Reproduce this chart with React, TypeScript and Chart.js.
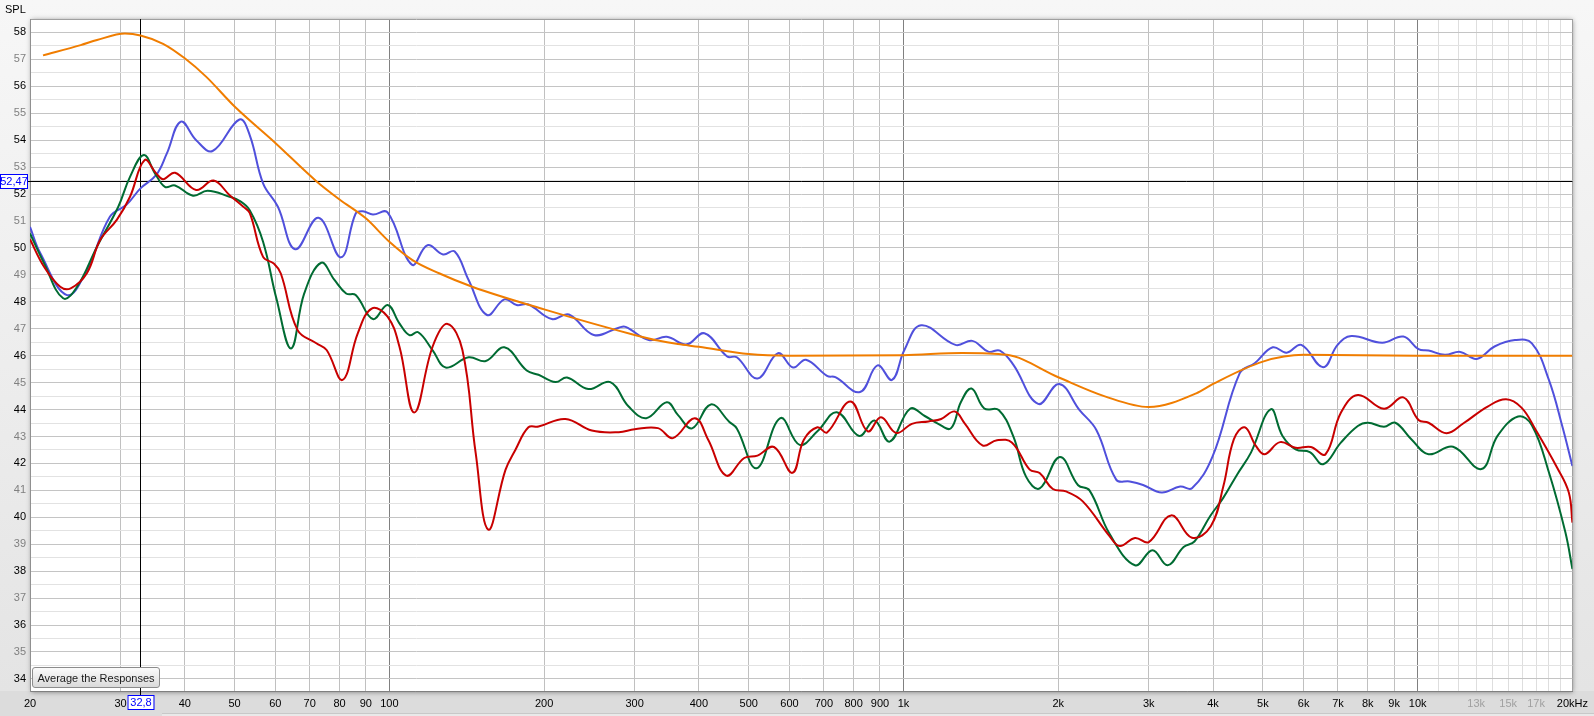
import React, { useEffect, useRef } from 'react';
import { Chart, registerables } from 'chart.js';

Chart.register(...registerables);

// ---- Data (frequency in Hz, SPL in dB) ----
const targetFreq = [21.2, 25.1, 27, 30.6, 32.8, 36.3, 40, 44, 50, 60, 72.1, 80, 90, 100, 110.9, 124.9, 144.9, 200, 300, 333, 364, 400, 500, 600, 1000, 1300, 1589, 2000, 2472, 3000, 3710, 4000, 5000, 6000, 10000, 20000];
const targetSPL = [57.15, 57.53, 57.72, 57.96, 57.89, 57.58, 57.04, 56.36, 55.25, 53.9, 52.48, 51.8, 51.1, 50.23, 49.55, 49.06, 48.56, 47.72, 46.77, 46.56, 46.43, 46.33, 46.06, 46.0, 46.02, 46.1, 46.03, 45.2, 44.48, 44.09, 44.6, 44.95, 45.78, 46.03, 46.0, 46.0];

const blueFreq = [20, 20.95, 23.6, 25.8, 28.6, 30.8, 32.8, 35.2, 36.9, 39.3, 42.1, 45.3, 51.1, 53.5, 56.8, 60.7, 65.6, 72.8, 80.5, 86, 88.8, 92.9, 99.2, 110.6, 118.6, 127.2, 134, 142.6, 154.8, 167.4, 176.8, 186.4, 207, 223.4, 249.8, 279.4, 288, 319.6, 346.4, 378.6, 410, 454, 474, 520, 570, 610, 646, 710, 737, 823, 890, 950, 1004, 1082, 1262, 1361, 1462, 1540, 1636, 1828, 2008, 2200, 2372, 2594, 2754, 2924, 3178, 3452, 3640, 3990, 4508, 4820, 5226, 5560, 5940, 6550, 6986, 7430, 8532, 9380, 10040, 10500, 11300, 12100, 13030, 14110, 15460, 16680, 18000, 19120, 20000];
const blueSPL = [50.78, 49.8, 48.25, 49.18, 51.16, 51.6, 52.21, 52.71, 53.5, 54.69, 54.0, 53.6, 54.77, 54.19, 52.4, 51.53, 49.95, 51.12, 49.65, 51.28, 51.36, 51.24, 51.32, 49.38, 50.1, 49.76, 49.87, 48.81, 47.51, 48.09, 47.88, 47.9, 47.36, 47.53, 46.77, 47.04, 47.07, 46.58, 46.7, 46.42, 46.83, 45.97, 45.94, 45.15, 46.09, 45.56, 45.85, 45.25, 45.2, 44.65, 45.64, 45.1, 46.21, 47.13, 46.4, 46.55, 46.15, 46.19, 45.66, 44.21, 44.95, 43.98, 43.24, 41.39, 41.33, 41.2, 40.92, 41.14, 41.08, 42.25, 45.35, 45.72, 46.31, 46.11, 46.4, 45.57, 46.4, 46.73, 46.48, 46.71, 46.24, 46.19, 46.03, 46.14, 45.88, 46.34, 46.58, 46.46, 45.1, 43.37, 41.9];

const redFreq = [20, 21.3, 22.9, 24, 25.8, 27.4, 29.5, 31.3, 33.4, 35.2, 36.3, 38.3, 42.1, 45.5, 48.9, 52, 53.5, 56.8, 59.6, 61.5, 66.3, 72.1, 75.5, 81.1, 86.8, 92.4, 99.2, 104.6, 111.8, 121.4, 129.7, 138.7, 147.2, 155.7, 168.2, 175.8, 186.4, 195, 220, 247.6, 279.4, 300, 333, 356, 392.8, 417, 452, 490, 520, 560, 608, 640, 680, 710, 788, 852, 904, 968, 1038, 1118, 1184, 1258, 1314, 1424, 1520, 1624, 1760, 1840, 1952, 2070, 2232, 2516, 2634, 2820, 3000, 3316, 3640, 3960, 4190, 4390, 4610, 4850, 5040, 5400, 5790, 6200, 6620, 7090, 7650, 8600, 9380, 10040, 10500, 11380, 12280, 13680, 14860, 15920, 16940, 18680, 19680, 20000];
const redSPL = [50.32, 49.3, 48.56, 48.5, 49.06, 50.3, 51.04, 51.9, 53.26, 52.77, 52.55, 52.79, 52.15, 52.5, 51.96, 51.53, 51.3, 49.67, 49.42, 49.05, 46.95, 46.46, 46.21, 45.1, 46.83, 47.75, 47.45, 46.34, 43.89, 46.34, 47.18, 46.21, 42.38, 39.54, 41.76, 42.5, 43.34, 43.37, 43.65, 43.22, 43.16, 43.27, 43.31, 42.94, 43.68, 42.88, 41.55, 42.2, 42.29, 42.61, 41.65, 42.88, 43.34, 43.15, 44.3, 43.19, 43.71, 43.13, 43.47, 43.56, 43.65, 43.93, 43.5, 42.67, 42.86, 42.78, 41.77, 41.64, 41.05, 40.96, 40.59, 39.3, 38.93, 39.23, 39.08, 40.07, 39.24, 39.67, 41.16, 42.89, 43.34, 42.64, 42.34, 42.79, 42.58, 42.61, 42.34, 43.88, 44.54, 44.03, 44.45, 43.61, 43.51, 43.12, 43.49, 44.11, 44.38, 44.07, 43.27, 41.84, 40.92, 39.8];

const greenFreq = [20, 21.3, 23.2, 24.7, 27, 29.7, 31.3, 33.3, 35, 36.6, 38.3, 41.5, 44.3, 48.9, 51.1, 53.5, 56.8, 60.3, 64.4, 68.3, 73.7, 78.2, 82.4, 86, 92.9, 99.2, 104.6, 109.4, 113.8, 121.4, 128.7, 142.6, 154, 167.4, 185, 195, 210.4, 221.6, 243.8, 269, 292, 316, 346.4, 364, 388, 422, 458, 474, 518, 576, 628, 680, 742, 820, 878, 940, 1030, 1100, 1166, 1236, 1294, 1356, 1436, 1532, 1636, 1732, 1840, 2014, 2186, 2300, 2516, 2820, 3050, 3264, 3506, 3680, 3950, 4190, 4460, 4740, 5176, 5460, 5790, 6170, 6550, 7090, 7650, 8008, 8600, 9048, 9720, 10500, 11720, 13300, 14300, 15680, 16680, 18000, 19380, 20000];
const greenSPL = [50.54, 49.43, 48.13, 48.56, 50.05, 51.53, 52.64, 53.45, 52.77, 52.27, 52.32, 51.94, 52.12, 51.9, 51.75, 51.4, 50.23, 48.12, 46.27, 48.31, 49.45, 48.81, 48.31, 48.25, 47.36, 47.88, 47.2, 46.76, 46.87, 46.2, 45.56, 45.94, 45.8, 46.31, 45.45, 45.29, 45.02, 45.19, 44.76, 45.02, 44.11, 43.68, 44.27, 43.8, 43.3, 44.19, 43.55, 43.3, 41.82, 43.68, 42.69, 43.19, 43.9, 43.02, 43.59, 42.81, 44.03, 43.76, 43.48, 43.3, 44.29, 44.78, 44.04, 43.98, 42.99, 41.5, 41.07, 42.24, 41.19, 41.0, 39.39, 38.22, 38.78, 38.22, 38.9, 39.1, 40.05, 40.73, 41.6, 42.4, 44.01, 43.02, 42.52, 42.42, 41.97, 42.77, 43.39, 43.51, 43.36, 43.51, 42.9, 42.34, 42.62, 41.79, 43.02, 43.74, 43.42, 41.67, 39.44, 38.08];

// ---- Axis ticks ----
const xTickValues = [20, 30, 40, 50, 60, 70, 80, 90, 100, 200, 300, 400, 500, 600, 700, 800, 900, 1000, 2000, 3000, 4000, 5000, 6000, 7000, 8000, 9000, 10000, 11000, 12000, 13000, 14000, 15000, 16000, 17000, 18000, 19000, 20000];
const xTickLabels = ['20', '30', '40', '50', '60', '70', '80', '90', '100', '200', '300', '400', '500', '600', '700', '800', '900', '1k', '2k', '3k', '4k', '5k', '6k', '7k', '8k', '9k', '10k', '', '', '13k', '', '15k', '', '17k', '', '', '20kHz'];
const xGrayLabels = [13000, 15000, 17000];
const yTickValues = [34, 34.5, 35, 35.5, 36, 36.5, 37, 37.5, 38, 38.5, 39, 39.5, 40, 40.5, 41, 41.5, 42, 42.5, 43, 43.5, 44, 44.5, 45, 45.5, 46, 46.5, 47, 47.5, 48, 48.5, 49, 49.5, 50, 50.5, 51, 51.5, 52, 52.5, 53, 53.5, 54, 54.5, 55, 55.5, 56, 56.5, 57, 57.5, 58, 58.5];

const cursorFreq = 32.8;
const cursorSPL = 52.47;
const cursorFreqLabel = '32,8';
const cursorSPLLabel = '52,47';

const FONT = '"Liberation Sans", Arial, sans-serif';

const toXY = (f: number[], v: number[]) => f.map((x, i) => ({ x, y: v[i] }));

const bgPlugin = {
  id: 'rewBackground',
  beforeDraw(chart: any) {
    const { ctx, chartArea: a, width, height } = chart;
    ctx.save();
    const g = ctx.createLinearGradient(0, 0, 0, a.bottom);
    g.addColorStop(0, '#f7f7f7');
    g.addColorStop(1, '#e4e4e4');
    ctx.fillStyle = g;
    ctx.fillRect(0, 0, width, height);
    ctx.fillStyle = '#dcdcdc';
    ctx.fillRect(0, a.bottom, width, height - a.bottom);
    ctx.fillStyle = '#e9e9e9';
    ctx.fillRect(162, height - 3, width - 162, 3);
    ctx.fillStyle = '#c8c8c8';
    ctx.fillRect(162, height - 3, width - 162, 1);
    // shadow + white plot area
    ctx.shadowColor = 'rgba(0,0,0,0.45)';
    ctx.shadowBlur = 5;
    ctx.shadowOffsetX = 1;
    ctx.shadowOffsetY = 1;
    ctx.fillStyle = '#ffffff';
    ctx.fillRect(a.left, a.top, a.right - a.left, a.bottom - a.top);
    ctx.restore();
    ctx.save();
    ctx.fillStyle = '#000';
    ctx.font = `11px ${FONT}`;
    ctx.textBaseline = 'middle';
    ctx.fillText('SPL', 5, 10);
    ctx.restore();
  },
  beforeDatasetsDraw(chart: any) {
    const { ctx, chartArea: a, scales } = chart;
    const x = Math.round(scales.x.getPixelForValue(cursorFreq)) + 0.5;
    const y = Math.round(scales.y.getPixelForValue(cursorSPL)) + 0.5;
    ctx.save();
    ctx.strokeStyle = '#000';
    ctx.lineWidth = 1;
    ctx.beginPath();
    ctx.moveTo(x, a.top);
    ctx.lineTo(x, a.bottom);
    ctx.moveTo(a.left, y);
    ctx.lineTo(a.right, y);
    ctx.stroke();
    ctx.restore();
  },
  afterDraw(chart: any) {
    const { ctx, chartArea: a, scales } = chart;
    const x = Math.round(scales.x.getPixelForValue(cursorFreq)) + 0.5;
    const y = Math.round(scales.y.getPixelForValue(cursorSPL)) + 0.5;
    ctx.save();
    ctx.strokeStyle = '#000';
    ctx.lineWidth = 1;
    ctx.beginPath();
    ctx.moveTo(x, a.bottom);
    ctx.lineTo(x, a.bottom + 5);
    ctx.moveTo(28, y);
    ctx.lineTo(a.left, y);
    ctx.stroke();
    ctx.font = `11px ${FONT}`;
    ctx.textBaseline = 'middle';
    ctx.textAlign = 'center';
    // SPL cursor box
    ctx.fillStyle = '#fff';
    ctx.fillRect(0, y - 7.5, 28, 14);
    ctx.strokeStyle = '#0000ff';
    ctx.strokeRect(0.5, y - 7, 27, 14);
    ctx.fillStyle = '#0000ff';
    ctx.fillText(cursorSPLLabel, 14, y + 0.5);
    // Freq cursor box
    const bx = x - 13;
    ctx.fillStyle = '#fff';
    ctx.fillRect(bx, a.bottom + 4, 26, 15);
    ctx.strokeStyle = '#0000ff';
    ctx.strokeRect(bx + 0.5, a.bottom + 4.5, 26, 14);
    ctx.fillStyle = '#0000ff';
    ctx.fillText(cursorFreqLabel, x + 0.5, a.bottom + 12);
    ctx.restore();
  },
};

export default function App() {
  const ref = useRef<HTMLCanvasElement | null>(null);

  useEffect(() => {
    if (!ref.current) return;
    const chart = new Chart(ref.current, {
      type: 'line',
      data: {
        datasets: [
          { label: 'Target', data: toXY(targetFreq, targetSPL), borderColor: '#f07d00', cubicInterpolationMode: 'monotone' },
          { label: 'Red', data: toXY(redFreq, redSPL), borderColor: '#c80000' },
          { label: 'Green', data: toXY(greenFreq, greenSPL), borderColor: '#006b32' },
          { label: 'Blue', data: toXY(blueFreq, blueSPL), borderColor: '#5050dc' },
        ],
      },
      options: {
        responsive: false,
        animation: false,
        layout: { padding: { top: 19, right: 15, left: 0, bottom: 0 } },
        plugins: { legend: { display: false }, tooltip: { enabled: false } },
        elements: {
          point: { radius: 0, hoverRadius: 0 },
          line: { borderWidth: 2, tension: 0.4, cubicInterpolationMode: 'default', fill: false },
        },
        scales: {
          x: {
            type: 'logarithmic',
            min: 20,
            max: 20000,
            afterBuildTicks: (s: any) => {
              s.ticks = xTickValues.map((v) => ({ value: v }));
            },
            afterFit: (s: any) => {
              s.height = 25;
            },
            ticks: {
              autoSkip: false,
              maxRotation: 0,
              minRotation: 0,
              padding: 6,
              font: { family: FONT, size: 11 },
              color: (c: any) => (xGrayLabels.includes(c.tick?.value) ? '#a0a0a0' : '#000'),
              callback: (_v: any, i: number) => xTickLabels[i],
            },
            grid: {
              drawTicks: false,
              lineWidth: 1,
              color: (c: any) => {
                const v = c.tick?.value;
                if (v === 20 || v === 20000) return '#a0a0a0';
                if (v === 100 || v === 1000 || v === 10000) return '#808080';
                if (v > 10000) return '#dedede';
                return '#c0c0c0';
              },
            },
            border: { display: true, color: '#808080' },
          },
          y: {
            type: 'linear',
            min: 33.55,
            max: 58.5,
            afterBuildTicks: (s: any) => {
              s.ticks = yTickValues.map((v) => ({ value: v }));
            },
            afterFit: (s: any) => {
              s.width = 30;
            },
            ticks: {
              autoSkip: false,
              padding: 4,
              font: { family: FONT, size: 11 },
              color: (c: any) => (Math.round(c.tick?.value) % 2 === 0 ? '#000' : '#808080'),
              callback: (v: any) => (Number.isInteger(v) ? String(v) : ''),
            },
            grid: {
              drawTicks: false,
              lineWidth: 1,
              color: (c: any) => {
                const v = c.tick?.value;
                if (v === 58.5) return '#a0a0a0';
                return Number.isInteger(v) ? '#c4c4c4' : '#e2e2e2';
              },
            },
            border: { display: true, color: '#909090' },
          },
        },
      } as any,
      plugins: [bgPlugin],
    });
    return () => chart.destroy();
  }, []);

  return (
    <div style={{ position: 'absolute', left: 0, top: 0, width: 1594, height: 716 }}>
      <canvas ref={ref} width={1594} height={716} style={{ display: 'block' }} />
      <div
        style={{
          position: 'absolute',
          left: 32,
          top: 667,
          width: 126,
          height: 19,
          border: '1px solid #8c8c8c',
          borderRadius: 3,
          background: 'linear-gradient(#fbfbfb, #dadada)',
          fontFamily: FONT,
          fontSize: 11,
          color: '#1a1a1a',
          display: 'flex',
          alignItems: 'center',
          justifyContent: 'center',
          whiteSpace: 'nowrap',
        }}
      >
        Average the Responses
      </div>
    </div>
  );
}
